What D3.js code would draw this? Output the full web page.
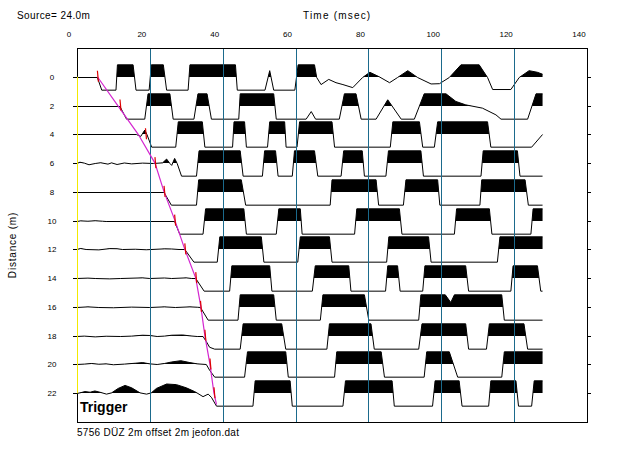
<!DOCTYPE html>
<html><head><meta charset="utf-8">
<script src="https://cdn.jsdelivr.net/npm/d3@7"></script>
<style>body{margin:0;background:#fff} text{font-family:"Liberation Sans",Arial,sans-serif}</style>
</head><body><svg id="c" width="617" height="469"></svg>
<script>
// ---- data ----
const distances = [0,2,4,6,8,10,12,14,16,18,20,22];
const timeTicks = [0,20,40,60,80,100,120,140];
const gridTimes = [20,40,60,80,100,120];
const sourceLabel = "Source= 24.0m";
const fileLabel = "5756 DÜZ 2m offset 2m jeofon.dat";

// each trace: [time ms, normalised amplitude (clipped at ±1)]
const trace0 = [[0,0],[5.6,0],[6.8,-1],[10.7,-1],[11.1,1],[15.4,1],[16.2,-1],[19.8,-1],[20.4,1],[23.7,1],[24.6,-1],[30.5,-1],[31,1],[43.5,1],[44,-1],[51.6,-1],[52.9,0.54],[54,-1],[59.8,-1],[60.7,1],[65.2,1],[65.8,0],[67,-0.56],[69.1,-0.15],[71.1,-0.41],[73,-0.56],[75.7,-0.8],[78.4,0],[80.4,0.41],[83,0.05],[85.8,-0.41],[88,0],[90.8,0.54],[93.5,0],[97.2,-0.51],[99.5,-0.49],[102.2,0],[105.4,1],[110.4,1],[112.7,0],[114.1,-0.95],[119.1,-0.95],[121.4,0],[124.1,0.54],[126.4,0.41],[127.8,0.26]];
const trace2 = [[0,0],[11.8,0],[13.6,-1],[18.6,-1],[19.5,1],[25.5,1],[26.4,-1],[32.1,-1],[33.2,1],[35.7,1],[36.9,-1],[44.4,-1],[44.8,1],[54,1],[54.7,-1],[62.9,-1],[64.3,-0.4],[65.5,-1],[72,-1],[73.4,1],[76.6,1],[78,-1],[82.1,-1],[85.3,0.53],[89,-1],[92.6,-1],[95.3,1],[101.3,1],[104,0.4],[106.7,0.13],[111.3,-0.13],[115,-0.66],[116.4,-1],[123.7,-1],[126,1],[127.8,1]];
const trace4 = [[0,0],[16.3,0],[17.5,-0.15],[18.6,0.35],[19.2,0],[20.5,-1],[27.1,-1],[27.8,1],[34.4,1],[35.1,-1],[42.7,-1],[43.1,1],[46,1],[46.5,-1],[52.3,-1],[52.9,1],[57,1],[57.4,-1],[60.4,-1],[61.1,1],[70,1],[70.7,-1],[86,-1],[86.7,1],[94,1],[94.9,-1],[98.1,-1],[99,1],[112.7,1],[113.6,-1],[124.8,-1],[127.8,0]];
const trace6 = [[0,0],[0.8,0.1],[2,0.03],[3.3,-0.1],[5,0],[6.5,0.06],[8.5,-0.05],[9.5,0.05],[11,-0.08],[13,0.04],[15,-0.03],[18,0.03],[21,0],[23.5,0.05],[24.6,0.35],[25.5,0],[26,-0.15],[26.8,0.4],[27.5,0],[28.7,-1],[32.8,-1],[33.5,1],[44.8,1],[45.6,-1],[50.9,-1],[51.5,1],[54.5,1],[55.2,-1],[59.1,-1],[59.7,1],[65.2,1],[66.1,-1],[72.5,-1],[73.2,1],[78.3,1],[78.9,-1],[84.8,-1],[85.5,1],[94.4,1],[95.1,-1],[110.9,-1],[111.5,1],[120.9,1],[121.6,-1],[127.8,-1]];
const trace8 = [[0,0],[23.9,0],[25.9,-1],[32.8,-1],[33.4,1],[45.1,1],[46.3,-1],[69.5,-1],[70,1],[82.1,1],[82.8,-1],[89.6,-1],[90.3,1],[99,1],[99.6,-1],[110.6,-1],[111.1,1],[123,1],[123.9,-1],[127.8,-1]];
const trace10 = [[0,0],[1,0.05],[3,0.02],[5,0.06],[7,0.02],[8,0],[26.8,0],[28.2,-1],[34.6,-1],[35.3,1],[45.8,1],[46.5,-1],[54.7,-1],[55.4,1],[61.3,1],[61.8,-1],[76.2,-1],[76.8,1],[88.5,1],[89.2,-1],[103.6,-1],[104.2,1],[113.2,1],[113.9,-1],[124.6,-1],[125.2,1],[127.8,1]];
const trace12 = [[0,0],[1,0.08],[2.5,0],[6,-0.03],[9,0.07],[11,0.06],[12.5,0],[16,0.02],[19,-0.02],[24,0.05],[26,0.04],[28,0],[29.6,0],[32.1,-1],[38.5,-1],[39.2,1],[50.6,1],[51.3,-1],[60.6,-1],[61.3,1],[69.3,1],[70,-1],[85,-1],[85.6,1],[96.5,1],[97.2,-1],[115.4,-1],[116.1,1],[127.8,1]];
const trace14 = [[0,0],[3,0.03],[5,0],[9,-0.03],[12,0],[18,0.05],[20,0],[24,0.04],[26,0],[30,0.05],[31.5,0],[32.6,0],[34.9,-1],[41.9,-1],[42.5,1],[52.9,1],[53.5,-1],[64.6,-1],[65.4,1],[74.6,1],[75.2,-1],[84.7,-1],[85.3,1],[88,1],[88.7,-1],[94.9,-1],[95.5,1],[106.7,1],[107.5,-1],[119.1,-1],[119.7,1],[126.4,1],[127.3,-1],[127.8,-1]];
const trace16 = [[0,0],[3,0.05],[6,0],[10,-0.02],[15,0.03],[20,0],[24,0.05],[27,0],[31,0.05],[33,0.02],[33.9,0],[36,-1],[44.2,-1],[44.8,1],[54,1],[54.7,-1],[66.8,-1],[67.5,1],[78.9,1],[80.1,-1],[93.8,-1],[94.4,1],[101.1,1],[102.6,0.4],[103.6,1],[116.6,1],[117.3,-1],[127.8,-1]];
const trace18 = [[0,0],[2,0.03],[5,-0.03],[8,0.02],[12,0],[15,0.03],[18,0.1],[20,0.08],[22,0],[24,0.03],[26,0.1],[29,0.12],[31,0.05],[33,0],[34.6,0],[35.5,-0.4],[36.4,-0.85],[37.8,-1],[44.8,-1],[45.6,1],[56.2,1],[57.3,-1],[68.6,-1],[69.3,1],[80.7,1],[81.6,-1],[93.8,-1],[94.7,1],[106.7,1],[107.5,-1],[112.4,-1],[113.2,1],[122.7,1],[123.7,-1],[127.8,-1]];
const trace20 = [[0,0],[2,0.03],[4,0.08],[6,0.02],[8,0.05],[10,-0.02],[13,0.03],[16,0.1],[18,0.15],[20,0.05],[22,0],[24,0.08],[26,0.2],[28.5,0.3],[31,0.15],[33,0.05],[35.5,0],[36.4,-0.45],[37.8,-1],[46,-1],[46.8,1],[57.3,1],[58,-1],[70.7,-1],[71.3,1],[83.5,1],[84.4,-1],[95.3,-1],[96,1],[102.2,1],[104.5,-1],[116.6,-1],[117.3,1],[127.8,1]];
const trace22 = [[0,0],[0.8,0.05],[2.2,0.15],[3.6,0.1],[4.9,0.2],[6.3,0.1],[8.1,-0.05],[9.5,0.05],[11.3,0.4],[13.2,0.64],[15,0.45],[17.3,0.05],[19.1,-0.05],[20.4,0.05],[21.8,0.4],[24.6,0.75],[27.3,0.7],[30,0.45],[32.3,0.15],[33.2,0],[34.6,-0.25],[36,-0.05],[36.9,-0.3],[38.3,-1],[48.3,-1],[48.9,1],[58.5,1],[59.1,-1],[73,-1],[73.7,1],[86.5,1],[87.1,-1],[97.6,-1],[98.3,1],[104.9,1],[105.7,-1],[113,-1],[113.6,1],[120.5,1],[121.2,-1],[124.8,-1],[125.5,1],[127.8,1]];
const traces = [trace0,trace2,trace4,trace6,trace8,trace10,trace12,trace14,trace16,trace18,trace20,trace22];

// first-break picks (ms) per trace, and the picked line (ms, distance m)
const pickTimes = [5.6,11.8,18.8,21.4,23.9,26.8,29.6,32.6,33.9,35.1,36.5,37.6];
const pickLineTimes = [5.6,11.2,16.8,21.4,23.9,26.9,29.6,32.6,34.0,35.1,36.5,37.6,38.3];
const pickLineDist  = [0,2,4,6,8,10,12,14,16,18,20,22,22.8];

// ---- drawing ----
const svg = d3.select("#c");
svg.append("rect").attr("width",617).attr("height",469).attr("fill","#fff");
const x = d3.scaleLinear().domain([0,140]).range([77,587]);
const y = d3.scaleLinear().domain([-2,24]).range([48,422]);
const amp = 0.44*(y(2)-y(0));
const px = v => Math.round(v)+0.5;

const defs = svg.append("defs");
const gTr = svg.append("g");
traces.forEach((tr,i) => {
  const base = Math.round(y(distances[i]))+0.5;
  defs.append("clipPath").attr("id","cp"+i)
    .append("rect").attr("x",x(0)).attr("y",0).attr("width",x(140)-x(0)).attr("height",base-0.5);
  const area = d3.area().x(d=>x(d[0])).y0(base).y1(d=>base - d[1]*amp);
  gTr.append("path").attr("d",area(tr)).attr("fill","#000").attr("clip-path","url(#cp"+i+")");
  const line = d3.line().x(d=>x(d[0])).y(d=>base - d[1]*amp);
  gTr.append("path").attr("d",line(tr)).attr("fill","none").attr("stroke","#000").attr("stroke-width",1);
  // side ticks
  svg.append("line").attr("x1",x(0)-4).attr("x2",x(0)).attr("y1",base).attr("y2",base).attr("stroke","#000");
  svg.append("line").attr("x1",x(140)).attr("x2",x(140)+4).attr("y1",base).attr("y2",base).attr("stroke","#000");
});

// grid lines
svg.append("g").selectAll("line").data(gridTimes).join("line")
  .attr("x1",d=>px(x(d))).attr("x2",d=>px(x(d)))
  .attr("y1",y(-2)).attr("y2",y(24)).attr("stroke","#1b6a8c").attr("stroke-width",1);

// frame
svg.append("rect").attr("x",px(x(0))).attr("y",px(y(-2))).attr("width",Math.round(x(140)-x(0))).attr("height",Math.round(y(24)-y(-2)))
  .attr("fill","none").attr("stroke","#000").attr("stroke-width",1);

// trigger (time zero) line
svg.append("line").attr("x1",px(x(0))).attr("x2",px(x(0))).attr("y1",y(0)).attr("y2",y(22))
  .attr("stroke","#f2ea00").attr("stroke-width",1);

// picked first-break line
const pl = pickLineTimes.map((t,i)=>[t,pickLineDist[i]]);
svg.append("path").attr("d",d3.line().x(d=>x(d[0])).y(d=>y(d[1]))(pl))
  .attr("fill","none").attr("stroke","#d426d0").attr("stroke-width",1.2);
svg.append("g").selectAll("line").data(pickTimes).join("line")
  .attr("x1",d=>x(d)).attr("x2",d=>x(d)+1)
  .attr("y1",(d,i)=>y(distances[i])-6).attr("y2",(d,i)=>y(distances[i])+5)
  .attr("stroke","#dd0000").attr("stroke-width",1.2);

// top tick labels (offset left as in original)
svg.append("g").selectAll("text").data(timeTicks).join("text")
  .attr("x",d=>x(d)-8).attr("y",37).attr("text-anchor","middle")
  .attr("font-size",8).text(d=>d);
// left distance labels
svg.append("g").selectAll("text").data(distances).join("text")
  .attr("x",52).attr("y",d=>y(d)+3).attr("text-anchor","middle")
  .attr("font-size",8).text(d=>d);

svg.append("text").attr("x",17).attr("y",19).attr("font-size",10).attr("letter-spacing",0.4).text(sourceLabel);
svg.append("text").attr("x",303).attr("y",19).attr("font-size",10).attr("letter-spacing",1.2).text("Time (msec)");
svg.append("text").attr("transform","translate(16,245) rotate(-90)").attr("text-anchor","middle")
  .attr("font-size",10).attr("letter-spacing",0.8).text("Distance (m)");
svg.append("text").attr("x",80).attr("y",412).attr("font-size",14).attr("font-weight","bold").text("Trigger");
svg.append("text").attr("x",77).attr("y",436).attr("font-size",10).attr("letter-spacing",0.3).text(fileLabel);
</script></body></html>
